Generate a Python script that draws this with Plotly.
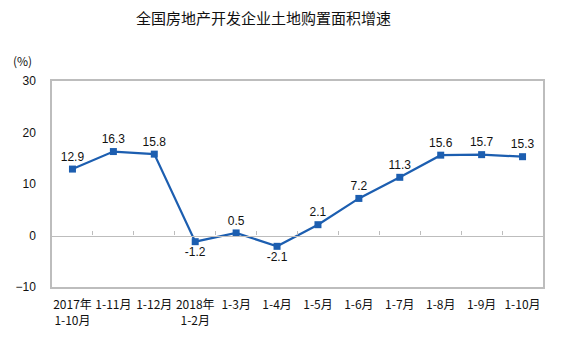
import plotly.graph_objects as go

categories = ["2017年<br>1-10月", "1-11月", "1-12月", "2018年<br>1-2月", "1-3月", "1-4月",
              "1-5月", "1-6月", "1-7月", "1-8月", "1-9月", "1-10月"]
values = [12.9, 16.3, 15.8, -1.2, 0.5, -2.1, 2.1, 7.2, 11.3, 15.6, 15.7, 15.3]
y_ticks = [-10, 0, 10, 20, 30]

W, H = 572, 341
L, R, T, B = 52, 29, 81, 54

positions = ["bottom center" if v < 0 else "top center" for v in values]

fig = go.Figure()
fig.add_trace(go.Scatter(
    x=list(range(len(categories))), y=values, mode="lines+markers+text",
    line=dict(color="#1c5eb0", width=2.2),
    marker=dict(symbol="square", size=7, color="#1c5eb0"),
    text=[f"{v:.1f}" for v in values], textposition=positions,
    textfont=dict(family="Liberation Sans, Arial", size=12, color="#111"),
    cliponaxis=False, showlegend=False,
))
# invisible trace on the overlay axis that carries boundary ticks on the zero line
fig.add_trace(go.Scatter(x=[-0.5, len(categories) - 0.5], y=[0, 0], xaxis="x2",
                         mode="lines", line=dict(width=0), hoverinfo="skip", showlegend=False))

fig.update_layout(
    width=W, height=H, margin=dict(l=L, r=R, t=T, b=B),
    paper_bgcolor="white", plot_bgcolor="white",
    font=dict(family="Noto Sans CJK SC, Liberation Sans", size=12, color="#111"),
    xaxis=dict(
        range=[-0.5, len(categories) - 0.5], tickmode="array",
        tickvals=list(range(len(categories))), ticktext=categories,
        showgrid=False, zeroline=False, showline=True, mirror=True,
        linecolor="#bdbdbd", linewidth=1.5, ticks="",
        tickfont=dict(family="Noto Sans CJK SC", size=12, color="#111"),
        ticklabelstandoff=6,
    ),
    xaxis2=dict(
        overlaying="x", anchor="free", position=0.25, side="bottom",
        range=[-0.5, len(categories) - 0.5], tickmode="array",
        tickvals=[i + 0.5 for i in range(len(categories) - 1)],
        ticks="inside", ticklen=4, tickcolor="#bdbdbd", tickwidth=1,
        showticklabels=False, showgrid=False, zeroline=False,
        showline=True, linecolor="#bdbdbd", linewidth=1.2,
    ),
    yaxis=dict(
        range=[-10, 30], tickmode="array", tickvals=y_ticks,
        showgrid=False, zeroline=False, showline=True, mirror=True,
        linecolor="#bdbdbd", linewidth=1.5, ticks="",
        tickfont=dict(family="Liberation Sans, Arial", size=12, color="#111"),
        ticklabelstandoff=12,
    ),
    annotations=[
        dict(text="全国房地产开发企业土地购置面积增速", xref="paper", yref="paper",
             x=(263 - L) / (W - L - R), y=1 + (T - 17) / (H - T - B),
             xanchor="center", yanchor="middle", showarrow=False,
             font=dict(family="Noto Sans CJK SC", size=15, color="#111")),
        dict(text="(%)", xref="paper", yref="paper",
             x=(22 - L) / (W - L - R), y=1 + (T - 60) / (H - T - B),
             xanchor="center", yanchor="middle", showarrow=False,
             font=dict(family="Noto Sans CJK SC", size=12, color="#111")),
    ],
)

fig.write_html("out.html")
